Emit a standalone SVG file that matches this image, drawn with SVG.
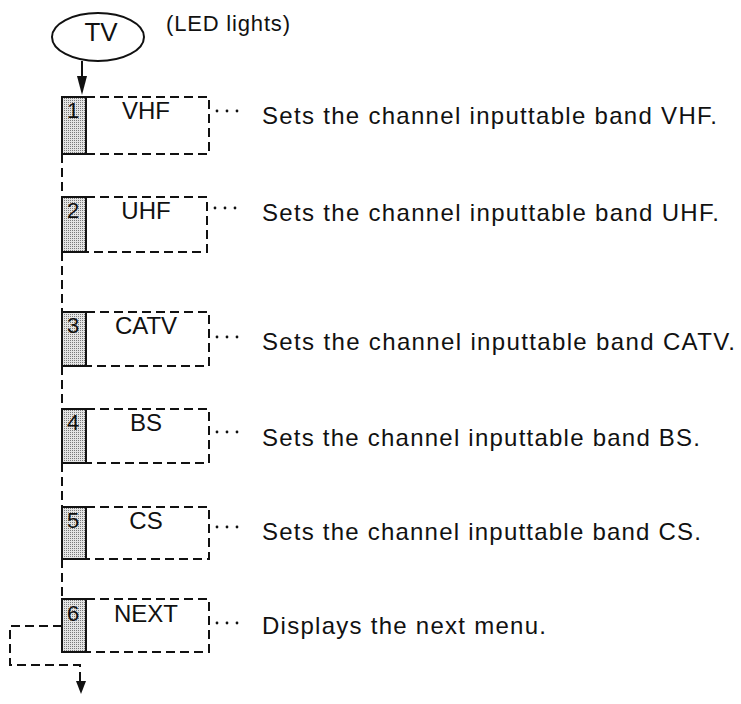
<svg xmlns="http://www.w3.org/2000/svg" width="741" height="704" viewBox="0 0 741 704">
<defs>
<pattern id="stip" width="2" height="2" patternUnits="userSpaceOnUse"><rect width="2" height="2" fill="#e4e4e4"/><rect width="1" height="1" fill="#7a7a7a"/></pattern>
<style>
text{font-family:"Liberation Sans",Arial,Helvetica,sans-serif;fill:#111}
.lbl{font-size:24px;text-anchor:middle}
.num{font-size:22px;text-anchor:middle}
.desc{font-size:24px}
.dash{fill:none;stroke:#111;stroke-width:2;stroke-dasharray:9 5}
.solid{fill:none;stroke:#111;stroke-width:2}
.cell{fill:url(#stip);stroke:#111;stroke-width:2}
.dot{fill:#111}
.head{fill:#111;stroke:none}
</style>
</defs>
<rect width="741" height="704" fill="#fff"/>

<g id="tv">
<ellipse cx="98" cy="37" rx="46" ry="24" class="solid"/>
<text x="101" y="41" font-size="26" text-anchor="middle">TV</text>
</g>
<g id="led-note">
<text x="166" y="31" font-size="22" textLength="124" lengthAdjust="spacing">(LED lights)</text>
</g>

<g id="connectors">
<line x1="82" y1="61" x2="82" y2="80" class="solid"/>
<polygon points="77,76 87,76 82,95" class="head"/>
<path d="M62,154 V197 M62,252 V312 M62,366 V409 M62,463 V507 M62,559 V599" class="dash"/>
<path d="M62,626 H10 V665 H80 V684" class="dash"/>
<polygon points="76,681 86,681 81,694" class="head"/>
</g>

<g id="item1">
<rect x="62" y="97" width="24" height="57" class="cell"/>
<path d="M86,97 H209 V154 H86" class="dash"/>
<text x="73" y="118" class="num">1</text>
<text x="146" y="119" class="lbl">VHF</text>
<circle cx="217" cy="111" r="1.4" class="dot"/><circle cx="227" cy="111" r="1.4" class="dot"/><circle cx="237" cy="111" r="1.4" class="dot"/>
<text x="262" y="124" class="desc" textLength="455" lengthAdjust="spacing">Sets the channel inputtable band VHF.</text>
</g>

<g id="item2">
<rect x="62" y="197" width="24" height="55" class="cell"/>
<path d="M86,197 H207 V252 H86" class="dash"/>
<text x="73" y="218" class="num">2</text>
<text x="146" y="219" class="lbl">UHF</text>
<circle cx="215" cy="208" r="1.4" class="dot"/><circle cx="225" cy="208" r="1.4" class="dot"/><circle cx="235" cy="208" r="1.4" class="dot"/>
<text x="262" y="221" class="desc" textLength="457" lengthAdjust="spacing">Sets the channel inputtable band UHF.</text>
</g>

<g id="item3">
<rect x="62" y="312" width="24" height="54" class="cell"/>
<path d="M86,312 H209 V366 H86" class="dash"/>
<text x="73" y="333" class="num">3</text>
<text x="146" y="334" class="lbl">CATV</text>
<circle cx="217" cy="337" r="1.4" class="dot"/><circle cx="227" cy="337" r="1.4" class="dot"/><circle cx="237" cy="337" r="1.4" class="dot"/>
<text x="262" y="350" class="desc" textLength="473" lengthAdjust="spacing">Sets the channel inputtable band CATV.</text>
</g>

<g id="item4">
<rect x="62" y="409" width="24" height="54" class="cell"/>
<path d="M86,409 H209 V463 H86" class="dash"/>
<text x="73" y="430" class="num">4</text>
<text x="146" y="431" class="lbl">BS</text>
<circle cx="217" cy="432" r="1.4" class="dot"/><circle cx="227" cy="432" r="1.4" class="dot"/><circle cx="237" cy="432" r="1.4" class="dot"/>
<text x="262" y="446" class="desc" textLength="438" lengthAdjust="spacing">Sets the channel inputtable band BS.</text>
</g>

<g id="item5">
<rect x="62" y="507" width="24" height="52" class="cell"/>
<path d="M86,507 H209 V559 H86" class="dash"/>
<text x="73" y="528" class="num">5</text>
<text x="146" y="529" class="lbl">CS</text>
<circle cx="217" cy="527" r="1.4" class="dot"/><circle cx="227" cy="527" r="1.4" class="dot"/><circle cx="237" cy="527" r="1.4" class="dot"/>
<text x="262" y="540" class="desc" textLength="439" lengthAdjust="spacing">Sets the channel inputtable band CS.</text>
</g>

<g id="item6">
<rect x="62" y="599" width="24" height="53" class="cell"/>
<path d="M86,599 H209 V652 H86" class="dash"/>
<text x="73" y="621" class="num">6</text>
<text x="146" y="622" class="lbl">NEXT</text>
<circle cx="217" cy="623" r="1.4" class="dot"/><circle cx="227" cy="623" r="1.4" class="dot"/><circle cx="237" cy="623" r="1.4" class="dot"/>
<text x="262" y="634" class="desc" textLength="284" lengthAdjust="spacing">Displays the next menu.</text>
</g>
</svg>
